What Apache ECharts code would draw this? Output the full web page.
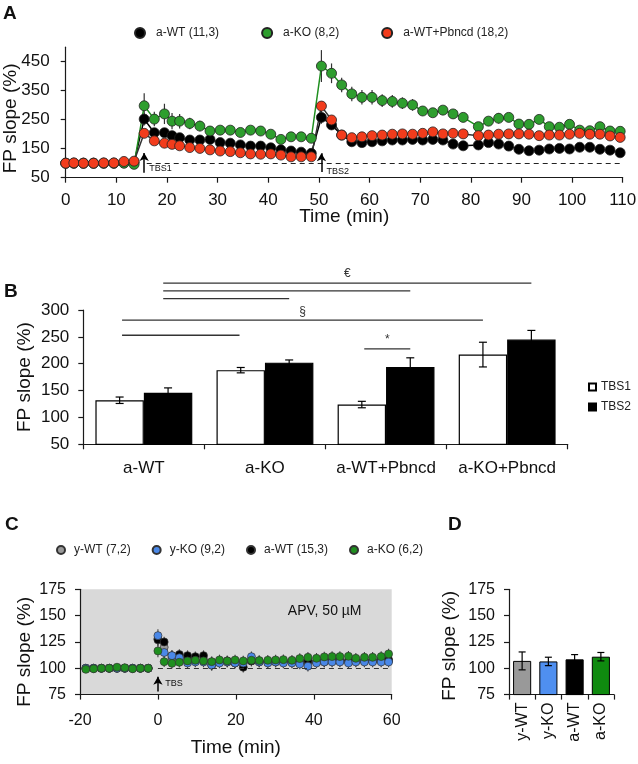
<!DOCTYPE html>
<html><head><meta charset="utf-8">
<script src="https://cdn.jsdelivr.net/npm/echarts@6/dist/echarts.min.js"></script>
<style>html,body{margin:0;padding:0;background:#fff}#c{width:638px;height:764px}</style>
</head><body><div id="c"></div>
<script>
// ---------- Panel A data ----------
const timeA = [0,1.6,3.5,5.5,7.5,9.5,11.5,13.5,
  15.5,17.5,19.5,21,22.5,24.5,26.5,28.5,30.5,32.5,34.5,36.5,38.5,40.5,42.5,44.5,46.5,48.5,
  50.5,52.5,54.5,56.5,58.5,60.5,62.5,64.5,66.5,68.5,70.5,72.5,74.5,76.5,78.5,
  81.5,83.5,85.5,87.5,89.5,91.5,93.5,95.5,97.5,99.5,101.5,103.5,105.5,107.5,109.5];
const aWT = [100,100,100,100,100,100,101,103,
  252,205,205,195,188,180,180,182,171,169,163,159,159,153,146,142,138,134,
  258,232,197,174,171,174,177,180,180,182,180,182,180,166,160,
  163,171,166,159,148,143,145,149,151,149,155,155,148,145,136];
const aWTErr = [3,3,3,3,3,3,3,4,
  22,14,12,10,10,10,9,9,8,8,8,8,8,8,8,8,8,8,
  22,15,12,10,10,10,10,10,10,10,10,10,10,10,10,
  10,10,10,10,10,10,10,10,10,10,10,10,10,10,10];
const aKO = [100,100,100,100,100,100,100,96,
  298,252,270,245,245,237,228,211,214,214,206,214,211,200,182,191,191,186,
  435,410,370,339,327,327,316,313,307,301,280,274,283,270,258,
  226,245,255,258,235,234,251,226,224,234,214,212,226,211,210];
const aKOErr = [3,3,3,3,3,3,3,4,
  43,25,35,28,25,20,18,12,10,10,12,12,10,8,8,8,8,8,
  55,34,25,25,25,25,22,22,20,20,15,15,12,12,12,
  10,15,18,15,10,10,15,10,10,15,8,8,8,8,8];
const aWTP = [100,101,100,100,101,101,106,107,
  203,177,169,165,160,154,151,146,142,140,136,132,131,132,128,122,122,122,
  297,249,197,188,191,195,197,200,201,200,203,208,201,203,201,
  195,197,200,201,201,200,195,197,197,200,203,200,200,194,189];
const aWTPErr = [3,3,3,3,3,3,3,4,
  12,8,8,8,7,7,7,7,7,7,7,7,7,7,7,7,7,7,
  15,10,8,8,8,8,8,8,8,8,8,8,8,8,8,
  8,8,8,8,8,8,8,8,8,8,8,8,8,8,8];
const namesA = ['a-WT (11,3)','a-KO (8,2)','a-WT+Pbncd (18,2)'];
const ticksA_x = [0,110,10];
const ticksA_y = [50,500,100];

// ---------- Panel B data ----------
const categoriesB = ['a-WT','a-KO','a-WT+Pbncd','a-KO+Pbncd'];
const tbs1 = [132,188,124,217];
const tbs1Err = [6,5,6,23];
const tbs2 = [146,202,194,245];
const tbs2Err = [9,5,17,17];
const sigStart = [0.16,0.16,0.16,-0.18,-0.18,1.82];
const sigEnd   = [3.2,2.2,1.2,2.8,0.79,2.2];
const sigLevel = [350,335.5,321,281,253,227.5];
const sigText  = ['€','','','§','','*'];

// ---------- Panel C data ----------
const timeC = [-18.5,-16.5,-14.5,-12.5,-10.5,-8.5,-6.5,-4.5,-2.5,
  0,1.6,3.6,5.5,7.6,9.6,11.7,13.8,15.8,17.8,19.8,21.9,24,26,28.2,30.2,32.2,34.4,36.4,38.5,40.7,42.7,44.7,46.7,48.9,50.8,53,55.1,57.3,59.2];
const cYWT = [100,100,100,100,100,100,100,100,100,
  128,120,110,110,108,107,108,106,106,106,106,106,107,106,106,106,106,106,106,106,106,106,107,107,107,107,107,107,107,107];
const cYKO = [100,100,100,100,100,100,100,100,100,
  131,115,112,110,105,106,106,103,105,106,105,105,111,106,105,106,105,105,104,102,105,106,106,106,105,106,106,106,106,106];
const cAWT = [100,100,100,100,100,100,100,100,100,
  127,125,112,113,112,111,112,103,106,107,105,101,107,107,106,107,107,106,106,107,106,107,107,107,107,107,107,107,108,108];
const cAKO = [99,99.5,100,100,101,100.5,99.5,100,100,
  116.5,106.3,104.7,105.7,107,107.6,107,106.3,107.9,107,107.9,107,107.6,107.3,107.6,107.9,108.2,107.6,109.2,110.4,109.5,110.8,111.1,111.1,111.4,109.5,110.4,110.4,111.1,113.6];
const cErr = [2,2,2,2,2,2,2,2,2,
  6,5,5,5,5,5,5,5,5,5,5,5,5,5,5,5,5,5,5,5,5,5,5,5,5,5,5,5,5,5];
const namesC = ['y-WT (7,2)','y-KO (9,2)','a-WT (15,3)','a-KO (6,2)'];

// ---------- Panel D data ----------
const categoriesD = ['y-WT','y-KO','a-WT','a-KO'];
const valuesD = [107,106.5,108.5,111];
const errD = [8.5,4,4.5,4];

// ---------- styles ----------
const FONT = '"Liberation Sans", Arial, sans-serif';
const INK = '#1a1a1a';
const colA = ['#000000','#2e9e2e','#f23c1c'];
const lineColA = ['#000000','#1f8f1f','#333333'];
const colC = ['#9a9a9a','#4a88e8','#000000','#1f8f1f'];
const colD = ['#999999','#4f8ff0','#000000','#0f8a0f'];

function axisBase(fs, margin){
  return {
    axisLine:{show:true,onZero:false,lineStyle:{color:INK,width:1.2}},
    axisTick:{show:true,length:5,lineStyle:{color:INK,width:1.2}},
    axisLabel:{fontSize:fs,fontFamily:FONT,color:'#111',margin:margin},
    splitLine:{show:false},
    nameMoveOverlap:false,
    nameTextStyle:{fontSize:19,fontFamily:FONT,color:'#111'}
  };
}
function errRender(cap,color,width){
  return function(params,api){
    const x=api.value(0), y=api.value(1), e=api.value(2);
    const p1=api.coord([x,y+e]), p2=api.coord([x,y-e]);
    const st={stroke:color,lineWidth:width};
    const ch=[{type:'line',shape:{x1:p1[0],y1:p1[1],x2:p2[0],y2:p2[1]},style:st}];
    if(cap>0){
      ch.push({type:'line',shape:{x1:p1[0]-cap/2,y1:p1[1],x2:p1[0]+cap/2,y2:p1[1]},style:st});
      ch.push({type:'line',shape:{x1:p2[0]-cap/2,y1:p2[1],x2:p2[0]+cap/2,y2:p2[1]},style:st});
    }
    return {type:'group',children:ch};
  };
}

const seriesA = [aWT,aKO,aWTP];
const errsA = [aWTErr,aKOErr,aWTPErr];
const series = [];
seriesA.forEach((s,k)=>{
  series.push({type:'custom',name:'errA'+k,xAxisIndex:0,yAxisIndex:0,z:1,
    encode:{x:0,y:1},renderItem:errRender(0,'#333',1.2),
    data:timeA.map((t,i)=>[t,s[i],errsA[k][i]])});
});
seriesA.forEach((s,k)=>{
  const ser={type:'line',name:namesA[k],xAxisIndex:0,yAxisIndex:0,z:2,
    symbol:'circle',symbolSize:10,showAllSymbol:true,
    itemStyle:{color:colA[k],borderColor:'#222',borderWidth:0.8},
    lineStyle:{color:lineColA[k],width:1.5},
    emphasis:{disabled:true},
    data:timeA.map((t,i)=>[t,s[i]])};
  if(k===0){
    ser.markLine={silent:true,symbol:['none','none'],label:{show:false},animation:false,
      data:[
        [{coord:[16,100],lineStyle:{type:[5,4],color:'#222',width:1}},{coord:[110,100]}],
        [{coord:[15.5,67],symbol:'none',lineStyle:{type:'solid',color:'#000',width:1.5}},{coord:[15.5,135],symbol:'arrow',symbolSize:[7,8]}],
        [{coord:[50.5,70],symbol:'none',lineStyle:{type:'solid',color:'#000',width:1.5}},{coord:[50.5,134],symbol:'arrow',symbolSize:[7,8]}]
      ]};
  }
  series.push(ser);
});
series.push({type:'bar',name:'TBS1',xAxisIndex:1,yAxisIndex:1,barCategoryGap:'20%',barGap:'0%',
  itemStyle:{color:'#ffffff',borderColor:'#000',borderWidth:1.2},emphasis:{disabled:true},data:tbs1});
series.push({type:'bar',name:'TBS2',xAxisIndex:1,yAxisIndex:1,barCategoryGap:'20%',barGap:'0%',
  itemStyle:{color:'#000000',borderColor:'#000',borderWidth:1.2},emphasis:{disabled:true},data:tbs2});
const errBData=[];
categoriesB.forEach((c,i)=>{errBData.push([i-0.2,tbs1[i],tbs1Err[i]]);errBData.push([i+0.2,tbs2[i],tbs2Err[i]]);});
series.push({type:'custom',name:'errB',xAxisIndex:2,yAxisIndex:1,z:3,encode:{x:0,y:1},
  renderItem:errRender(8,'#000',1.2),data:errBData});
series.push({type:'custom',name:'sigB',xAxisIndex:2,yAxisIndex:1,z:3,encode:{x:[0,1],y:2},clip:false,
  renderItem:function(params,api){
    const a=api.coord([api.value(0),api.value(2)]), b=api.coord([api.value(1),api.value(2)]);
    const ch=[{type:'line',shape:{x1:a[0],y1:a[1],x2:b[0],y2:b[1]},style:{stroke:'#333',lineWidth:1.3}}];
    const t=sigText[params.dataIndex];
    if(t){ch.push({type:'text',style:{text:t,x:(a[0]+b[0])/2,y:a[1]-3,align:'center',verticalAlign:'bottom',
      textAlign:'center',textVerticalAlign:'bottom',font:'12px '+FONT,fill:'#333'}});}
    return {type:'group',children:ch};
  },
  data:sigStart.map((s,i)=>[s,sigEnd[i],sigLevel[i]])});
const seriesC=[cYWT,cYKO,cAWT,cAKO];
const errCData=[];
seriesC.forEach(s=>timeC.forEach((t,i)=>errCData.push([t,s[i],cErr[i]])));
series.push({type:'custom',name:'errC',xAxisIndex:3,yAxisIndex:2,z:1,encode:{x:0,y:1},
  renderItem:errRender(0,'#444',1.1),data:errCData});
[0,2,1,3].forEach(k=>{
  const ser={type:'scatter',name:namesC[k],xAxisIndex:3,yAxisIndex:2,z:2,symbol:'circle',symbolSize:8,
    itemStyle:{color:colC[k],borderColor:'#333',borderWidth:0.7,opacity:1},emphasis:{disabled:true},
    data:timeC.map((t,i)=>[t,seriesC[k][i]])};
  if(k===0){
    ser.markLine={silent:true,symbol:['none','none'],label:{show:false},animation:false,
      data:[
        [{coord:[0,100],lineStyle:{type:[5,4],color:'#333',width:1}},{coord:[60,100]}],
        [{coord:[0,78],symbol:'none',lineStyle:{type:'solid',color:'#000',width:1.5}},{coord:[0,92],symbol:'arrow',symbolSize:[7,8]}]
      ]};
  }
  series.push(ser);
});
series.push({type:'bar',name:'D',xAxisIndex:4,yAxisIndex:3,barCategoryGap:'31%',emphasis:{disabled:true},
  data:valuesD.map((v,i)=>({value:v,itemStyle:{color:colD[i],borderColor:'#000',borderWidth:1}}))});
series.push({type:'custom',name:'errD',xAxisIndex:4,yAxisIndex:3,z:3,encode:{x:0,y:1},
  renderItem:errRender(7,'#000',1.2),data:valuesD.map((v,i)=>[i,v,errD[i]])});

const option = {
  animation:false,
  textStyle:{fontFamily:FONT},
  grid:[
    {left:65.7,top:47.2,width:557,height:130.5,containLabel:false,outerBoundsMode:'none'},
    {left:83.3,top:310,width:484.4,height:134.3,containLabel:false,outerBoundsMode:'none'},
    {left:80,top:589.3,width:311.7,height:105.3,show:true,backgroundColor:'#d9d9d9',borderWidth:0,containLabel:false,outerBoundsMode:'none'},
    {left:509,top:589.3,width:105,height:105.3,containLabel:false,outerBoundsMode:'none'}
  ],
  xAxis:[
    Object.assign(axisBase(17,14),{type:'value',gridIndex:0,min:ticksA_x[0],max:ticksA_x[1],interval:ticksA_x[2],
      name:'Time (min)',nameLocation:'middle',nameGap:30}),
    Object.assign(axisBase(17,16),{type:'category',gridIndex:1,data:categoriesB}),
    {type:'value',gridIndex:1,min:-0.5,max:3.5,show:false},
    Object.assign(axisBase(16,18),{type:'value',gridIndex:2,min:-20,max:60,interval:20,
      name:'Time (min)',nameLocation:'middle',nameGap:44}),
    Object.assign(axisBase(16,8),{type:'category',gridIndex:3,data:categoriesD})
  ],
  yAxis:[
    Object.assign(axisBase(17,16),{type:'value',gridIndex:0,min:ticksA_y[0],max:ticksA_y[1],interval:ticksA_y[2],
      name:'FP slope (%)',nameLocation:'middle',nameGap:45}),
    Object.assign(axisBase(17,14),{type:'value',gridIndex:1,min:50,max:300,interval:50,
      name:'FP slope (%)',nameLocation:'middle',nameGap:49}),
    Object.assign(axisBase(16,14),{type:'value',gridIndex:2,min:75,max:175,interval:25,
      name:'FP slope (%)',nameLocation:'middle',nameGap:46}),
    Object.assign(axisBase(16,14),{type:'value',gridIndex:3,min:75,max:175,interval:25,
      name:'FP slope (%)',nameLocation:'middle',nameGap:50})
  ],
  legend:[
    {data:namesA,left:129,top:22,itemWidth:22,itemHeight:10,itemGap:42,icon:'circle',selectedMode:false,
      textStyle:{fontSize:12,fontFamily:FONT,color:'#222'}},
    {data:['TBS1','TBS2'],left:583,top:376,orient:'vertical',itemWidth:7,itemHeight:7,itemGap:8,icon:'rect',selectedMode:false,
      textStyle:{fontSize:12,fontFamily:FONT,color:'#222'}},
    {data:namesC,left:51,top:539,itemWidth:16,itemHeight:8,itemGap:21,icon:'circle',selectedMode:false,
      textStyle:{fontSize:12,fontFamily:FONT,color:'#222'}}
  ],
  series:series
};
option.yAxis[0].nameTextStyle = Object.assign({},option.yAxis[0].nameTextStyle,{padding:[0,12,0,0]});
option.yAxis[2].nameTextStyle = Object.assign({},option.yAxis[2].nameTextStyle,{padding:[0,20,0,0]});
option.yAxis[3].nameTextStyle = Object.assign({},option.yAxis[3].nameTextStyle,{padding:[0,8,0,0]});
option.xAxis[1].axisLabel.interval = 0;
option.xAxis[4].axisLabel.interval = 0;
option.xAxis[4].axisLabel.rotate = 90;
option.yAxis[0].axisLabel.showMaxLabel = false;

const chart = echarts.init(document.getElementById('c'),null,{renderer:'canvas',width:638,height:764});
chart.setOption(option);

function px(g,pt){return chart.convertToPixel({gridIndex:g},pt);}
const tbs1p=px(0,[16.5,82.4]), tbs2p=px(0,[51.5,70.7]), tbsCp=px(2,[1.9,85.8]), apv=px(2,[42.8,153.8]);
function txt(x,y,s,font,align){return {type:'text',x:x,y:y,style:{text:s,font:font,fill:'#111',align:align||'left',verticalAlign:'middle',textAlign:align||'left',textVerticalAlign:'middle'},z:100};}
chart.setOption({graphic:[
  txt(3,14,'A','bold 19px '+FONT),
  txt(4,292,'B','bold 19px '+FONT),
  txt(5,525,'C','bold 19px '+FONT),
  txt(448,525,'D','bold 19px '+FONT),
  txt(tbs1p[0],tbs1p[1],'TBS1','9px '+FONT),
  txt(tbs2p[0],tbs2p[1],'TBS2','9px '+FONT),
  txt(tbsCp[0],tbsCp[1],'TBS','9px '+FONT),
  txt(apv[0],apv[1],'APV, 50 µM','14px '+FONT,'center')
]});
</script></body></html>
